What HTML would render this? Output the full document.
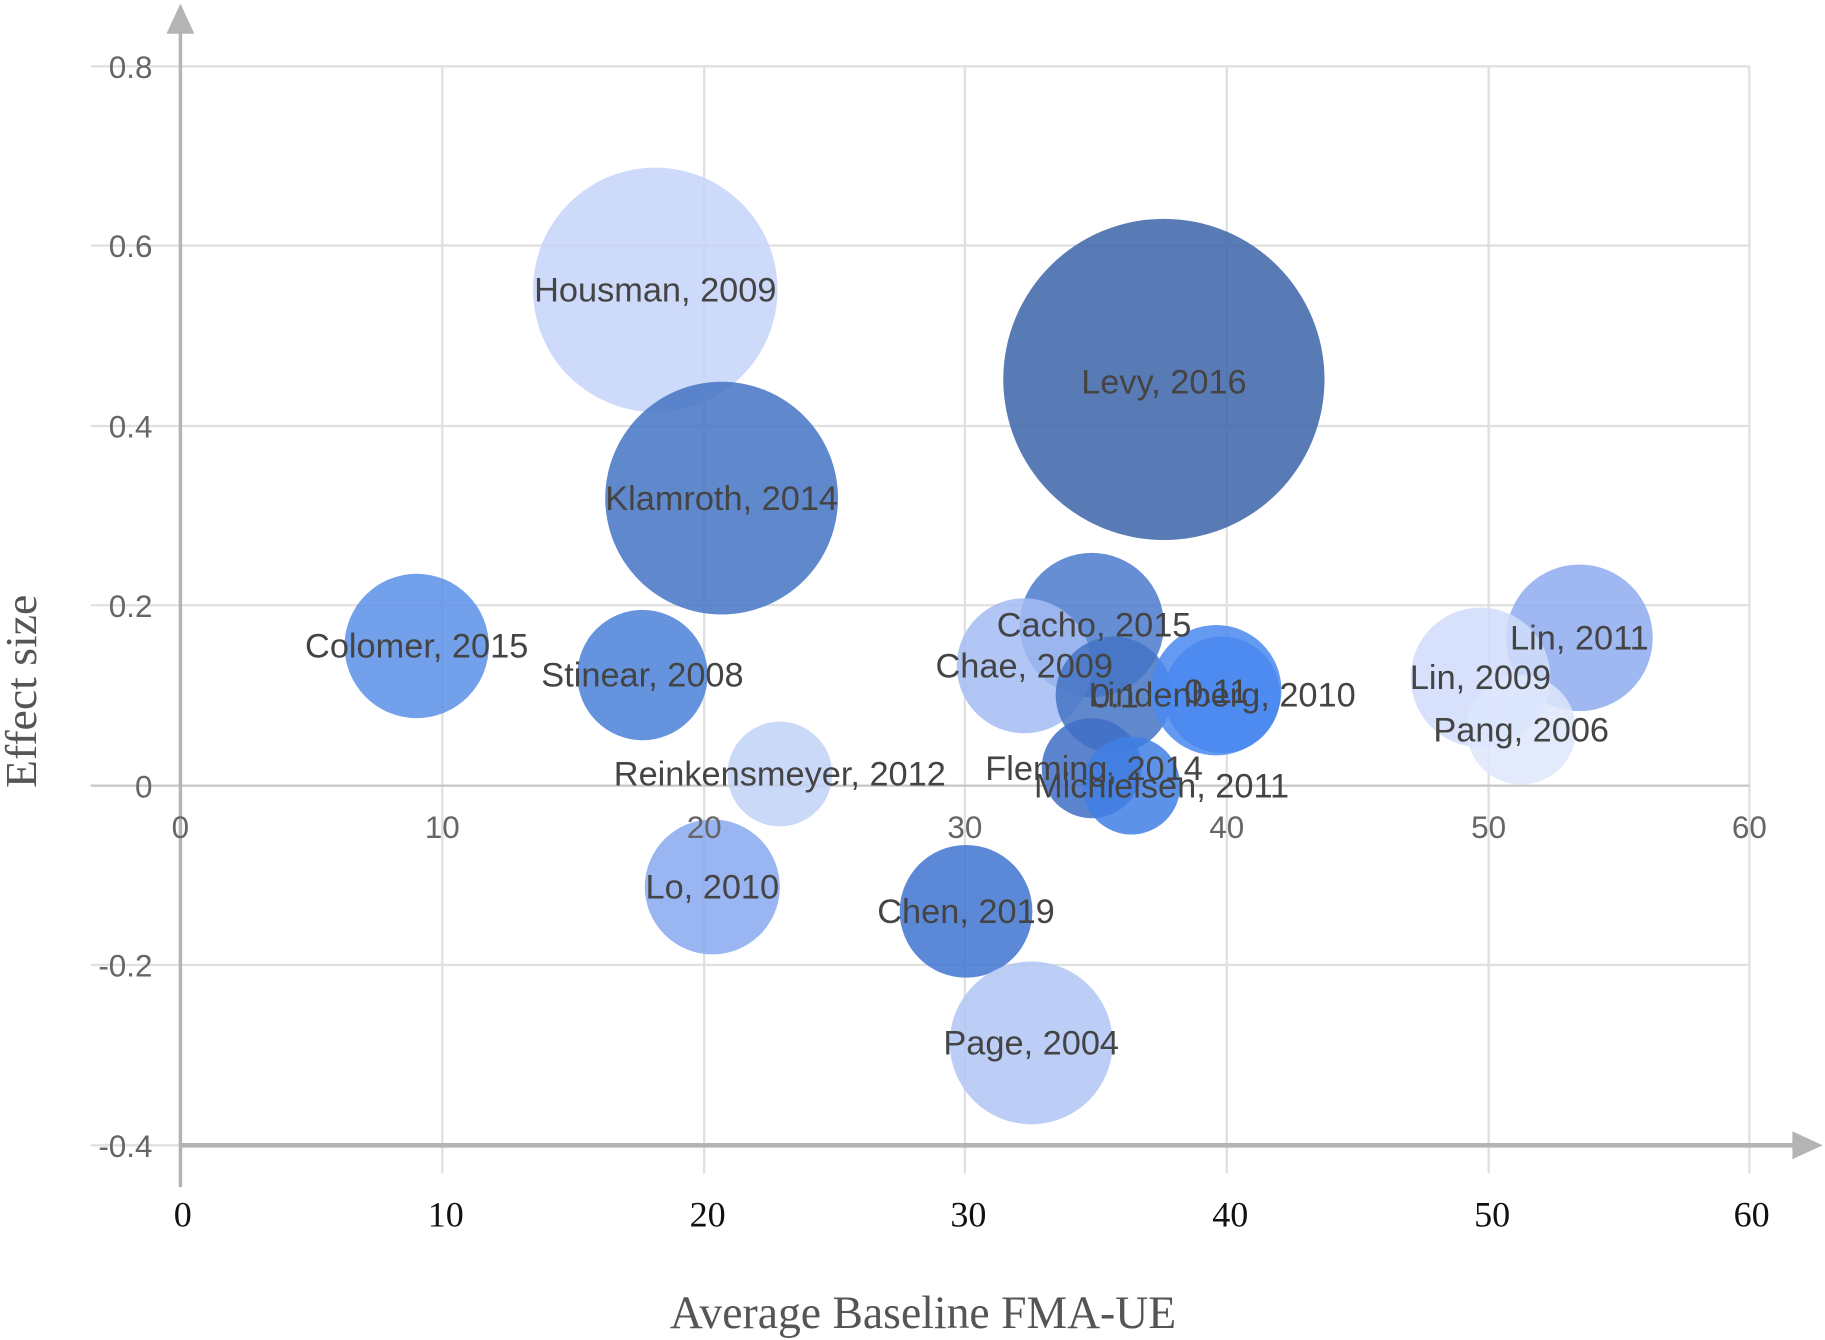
<!DOCTYPE html>
<html><head><meta charset="utf-8"><style>html,body{margin:0;padding:0;background:#fff}svg{display:block}</style></head>
<body>
<svg width="1825" height="1340" viewBox="0 0 1568 1151.3" preserveAspectRatio="none" xmlns="http://www.w3.org/2000/svg">
<g stroke="#e0e0e0" stroke-width="2">
<line x1="78" y1="57" x2="1503" y2="57"/><line x1="78" y1="211" x2="1503" y2="211"/>
<line x1="78" y1="366" x2="1503" y2="366"/><line x1="78" y1="520" x2="1503" y2="520"/>
<line x1="78" y1="675" x2="1503" y2="675"/><line x1="78" y1="829" x2="1503" y2="829"/>
<line x1="78" y1="984" x2="1503" y2="984"/>
<line x1="380" y1="57" x2="380" y2="1008"/><line x1="605" y1="57" x2="605" y2="1008"/>
<line x1="829" y1="57" x2="829" y2="1008"/><line x1="1054" y1="57" x2="1054" y2="1008"/>
<line x1="1279" y1="57" x2="1279" y2="1008"/><line x1="1503" y1="57" x2="1503" y2="1008"/>
</g>
<line x1="78" y1="675" x2="1503" y2="675" stroke="#c8c8c8" stroke-width="2"/>
<g fill-opacity="0.85">
<circle cx="563" cy="249" r="105" fill="#c6d4f8"/>
<circle cx="620" cy="428" r="100" fill="#4474c4"/>
<circle cx="1000" cy="326" r="138" fill="#3c64a8"/>
<circle cx="358" cy="555" r="62" fill="#5a8fe8"/>
<circle cx="552" cy="580" r="56" fill="#4a80d8"/>
<circle cx="670" cy="665" r="45" fill="#c2d2f7"/>
<circle cx="612" cy="762" r="58" fill="#87a8f0"/>
<circle cx="830" cy="783" r="57" fill="#4074d0"/>
<circle cx="886" cy="896" r="70" fill="#b0c6f5"/>
<circle cx="938" cy="537" r="62" fill="#4a7acc"/>
<circle cx="880" cy="572" r="58" fill="#a5bcf3"/>
<circle cx="957" cy="597" r="50" fill="#4473c4"/>
<circle cx="1045" cy="593" r="56" fill="#4a88f0"/>
<circle cx="1050" cy="597" r="50" fill="#4a88f0"/>
<circle cx="938" cy="660" r="43" fill="#3f6fc6"/>
<circle cx="972" cy="675" r="42" fill="#3f7fe4"/>
<circle cx="1357" cy="548" r="63" fill="#8eacf0"/>
<circle cx="1272" cy="582" r="60" fill="#d0dcfa"/>
<circle cx="1307" cy="627" r="47" fill="#dde6fb"/>
</g>
<g font-family="Liberation Sans, sans-serif" font-size="29.5" fill="#444" text-anchor="middle">
<text x="563" y="259">Housman, 2009</text>
<text x="620" y="438">Klamroth, 2014</text>
<text x="1000" y="338">Levy, 2016</text>
<text x="358" y="565">Colomer, 2015</text>
<text x="552" y="590">Stinear, 2008</text>
<text x="670" y="675">Reinkensmeyer, 2012</text>
<text x="612" y="772">Lo, 2010</text>
<text x="830" y="793">Chen, 2019</text>
<text x="886" y="906">Page, 2004</text>
<text x="940" y="547">Cacho, 2015</text>
<text x="880" y="582">Chae, 2009</text>
<text x="958" y="608">0.1</text>
<text x="1045" y="604">0.11</text>
<text x="1050" y="607">Lindenberg, 2010</text>
<text x="940" y="670">Fleming, 2014</text>
<text x="998" y="685">Michielsen, 2011</text>
<text x="1357" y="558">Lin, 2011</text>
<text x="1272" y="592">Lin, 2009</text>
<text x="1307" y="637">Pang, 2006</text>
</g>
<g stroke="#b4b4b4" stroke-width="4" fill="#b4b4b4">
<line x1="155" y1="28" x2="155" y2="1020" stroke-width="3"/>
<polygon points="155,3 143,29 167,29" stroke="none"/>
<line x1="155" y1="984" x2="1545" y2="984"/>
<polygon points="1566,984 1540,972 1540,996" stroke="none"/>
</g>
<g font-family="Liberation Sans, sans-serif" font-size="27" fill="#666" text-anchor="end">
<text x="131" y="67">0.8</text><text x="131" y="221">0.6</text><text x="131" y="376">0.4</text>
<text x="131" y="530">0.2</text><text x="131" y="685">0</text><text x="131" y="839">-0.2</text>
<text x="131" y="994">-0.4</text>
</g>
<g font-family="Liberation Sans, sans-serif" font-size="27" fill="#666" text-anchor="middle">
<text x="155" y="720">0</text><text x="380" y="720">10</text><text x="605" y="720">20</text>
<text x="829" y="720">30</text><text x="1054" y="720">40</text><text x="1279" y="720">50</text><text x="1503" y="720">60</text>
</g>
<g font-family="Liberation Serif, serif" font-size="31" fill="#111" text-anchor="middle">
<text x="157" y="1054">0</text><text x="383" y="1054">10</text><text x="608" y="1054">20</text>
<text x="832" y="1054">30</text><text x="1057" y="1054">40</text><text x="1282" y="1054">50</text><text x="1505" y="1054">60</text>
</g>
<text x="793" y="1141" font-family="Liberation Serif, serif" font-size="40" fill="#555" text-anchor="middle" textLength="435" lengthAdjust="spacingAndGlyphs">Average Baseline FMA-UE</text>
<text transform="translate(31,594) rotate(-90)" font-family="Liberation Serif, serif" font-size="38" fill="#555" text-anchor="middle" textLength="166" lengthAdjust="spacingAndGlyphs">Effect size</text>
</svg>
</body></html>
